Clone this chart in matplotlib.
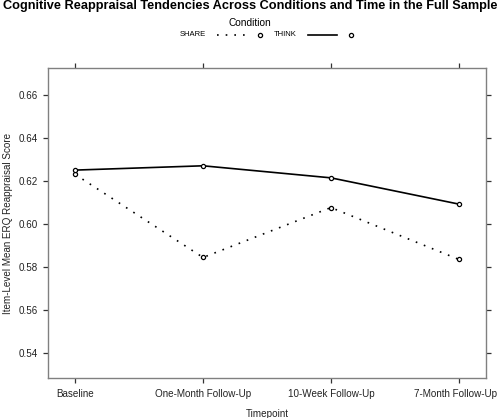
import numpy as np
import matplotlib.pyplot as plt
import matplotlib.transforms as mtransforms
from matplotlib.lines import Line2D

plt.rcParams['font.family'] = ['Liberation Sans', 'DejaVu Sans']

# Data
timepoints = ['Baseline', 'One-Month Follow-Up', '10-Week Follow-Up', '7-Month Follow-Up']
share = [0.6231, 0.5845, 0.6077, 0.5836]
think = [0.6251, 0.6271, 0.6215, 0.6093]
y_ticks = [0.54, 0.56, 0.58, 0.60, 0.62, 0.64, 0.66]

x = np.arange(1, len(timepoints) + 1)

W, H = 500, 418
fig = plt.figure(figsize=(W / 100, H / 100), dpi=100)
ax = fig.add_axes([48.3 / W, 1 - 378 / H, (485.7 - 48.3) / W, (378 - 68.3) / H])

dotted = (0, (1, 4.2))
lw = 1.2
mk = dict(marker='o', markersize=3.0, markerfacecolor='white', markeredgewidth=0.9)

ax.plot(x, share, color='black', linestyle=dotted, linewidth=lw, **mk)
ax.plot(x, think, color='black', linestyle='-', linewidth=lw, **mk)

ax.set_xlim(0.79, 4.21)
ax.set_ylim(0.5285, 0.6724)
ax.set_xticks(x)
ax.set_xticklabels(timepoints)
ax.set_yticks(y_ticks)
ax.set_yticklabels([f'{v:.2f}' for v in y_ticks])
ax.tick_params(axis='both', direction='out', length=3.6, width=0.9, color='#333333',
               labelsize=7.1, labelcolor='#222222', top=True, right=True,
               labeltop=False, labelright=False, pad=4.2)
for s in ax.spines.values():
    s.set_color('#808080')
    s.set_linewidth(1.0)

# last label nudged left so it stays inside the figure, as in the reference
last = ax.get_xticklabels()[-1]
last.set_transform(last.get_transform() + mtransforms.ScaledTranslation(-3 / 100, 0, fig.dpi_scale_trans))

ax.set_xlabel('Timepoint', fontsize=7.1, color='#222222', labelpad=7)
ax.set_ylabel('Item-Level Mean ERQ Reappraisal Score', fontsize=7.1, color='#222222', labelpad=3.5)

fig.text(0.5, 1 - 6.5 / H, 'Cognitive Reappraisal Tendencies Across Conditions and Time in the Full Sample',
         ha='center', va='center', fontsize=9.2, fontweight='bold')
fig.text(0.5, 1 - 23 / H, 'Condition', ha='center', va='center', fontsize=7.3)

# legend drawn in lattice style: label, line, point
ly = 1 - 35 / H
fig.text(192.8 / W, ly, 'SHARE', ha='center', va='center', fontsize=5.5)
fig.add_artist(Line2D([217 / W, 246 / W], [ly, ly], color='black',
                      linestyle=dotted, linewidth=lw))
fig.add_artist(Line2D([260 / W], [ly], color='black', linestyle='none', **mk))
fig.text(285.5 / W, ly, 'THINK', ha='center', va='center', fontsize=5.5)
fig.add_artist(Line2D([308 / W, 337 / W], [ly, ly], color='black',
                      linestyle='-', linewidth=lw))
fig.add_artist(Line2D([351 / W], [ly], color='black', linestyle='none', **mk))

fig.savefig('out.png', dpi=100)
